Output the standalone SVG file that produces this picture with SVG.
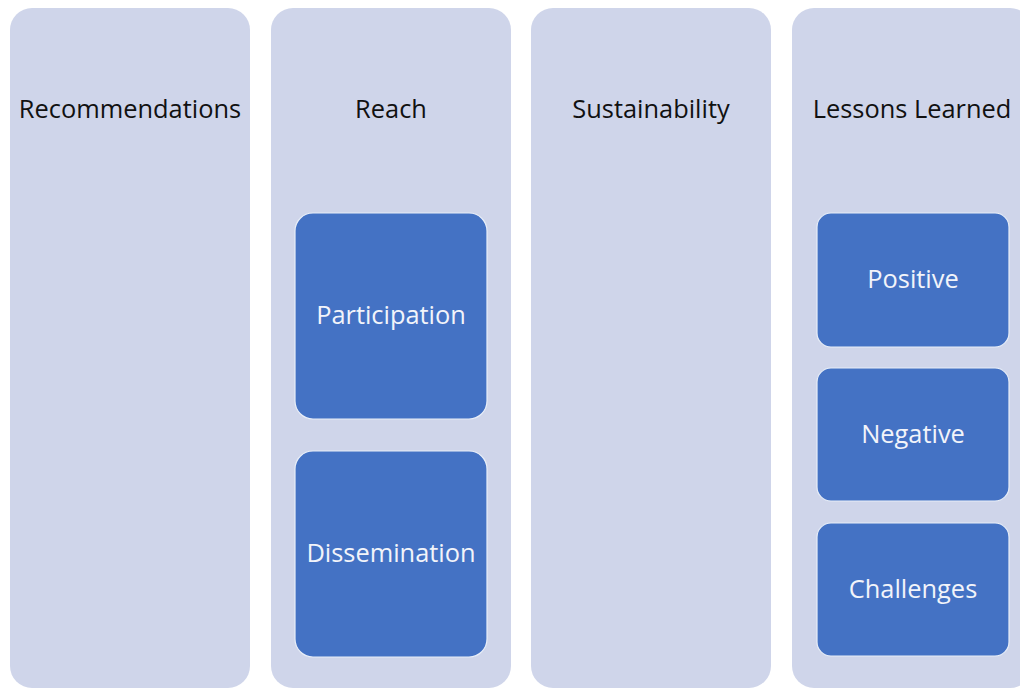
<svg xmlns="http://www.w3.org/2000/svg" width="1020" height="688" viewBox="0 0 1020 688">
  <style>
    .col { fill: #CFD5EA; }
    .box { fill: #4472C4; stroke: #E8EEF8; stroke-width: 1.2; }
    .head { font-family: "Open Sans", "Liberation Sans", sans-serif; font-size: 25.4px; fill: #111111; text-anchor: middle; }
    .lbl { font-family: "Open Sans", "Liberation Sans", sans-serif; font-size: 25.4px; fill: #F2F4FA; text-anchor: middle; }
  </style>
  <rect width="1020" height="688" fill="#FFFFFF"/>

  <!-- column containers -->
  <g id="recommendations">
    <rect class="col" x="10" y="8" width="240" height="680" rx="22"/>
    <text class="head" x="130" y="118">Recommendations</text>
  </g>
  <g id="reach">
    <rect class="col" x="271" y="8" width="240" height="680" rx="22"/>
    <text class="head" x="391" y="118">Reach</text>
  </g>
  <g id="sustainability">
    <rect class="col" x="531" y="8" width="240" height="680" rx="22"/>
    <text class="head" x="651" y="118">Sustainability</text>
  </g>
  <g id="lessons-learned">
    <rect class="col" x="792" y="8" width="240" height="680" rx="22"/>
    <text class="head" x="912" y="118">Lessons Learned</text>
  </g>

  <!-- child items -->
  <g id="participation">
    <rect class="box" x="295" y="213" width="192" height="206" rx="18"/>
    <text class="lbl" x="391" y="324">Participation</text>
  </g>
  <g id="dissemination">
    <rect class="box" x="295" y="451" width="192" height="206" rx="18"/>
    <text class="lbl" x="391" y="562">Dissemination</text>
  </g>
  <g id="positive">
    <rect class="box" x="817" y="213" width="192" height="134" rx="14"/>
    <text class="lbl" x="913" y="288">Positive</text>
  </g>
  <g id="negative">
    <rect class="box" x="817" y="368" width="192" height="133" rx="14"/>
    <text class="lbl" x="913" y="443">Negative</text>
  </g>
  <g id="challenges">
    <rect class="box" x="817" y="523" width="192" height="133" rx="14"/>
    <text class="lbl" x="913" y="598">Challenges</text>
  </g>

  <g id="connectors"/>
</svg>
